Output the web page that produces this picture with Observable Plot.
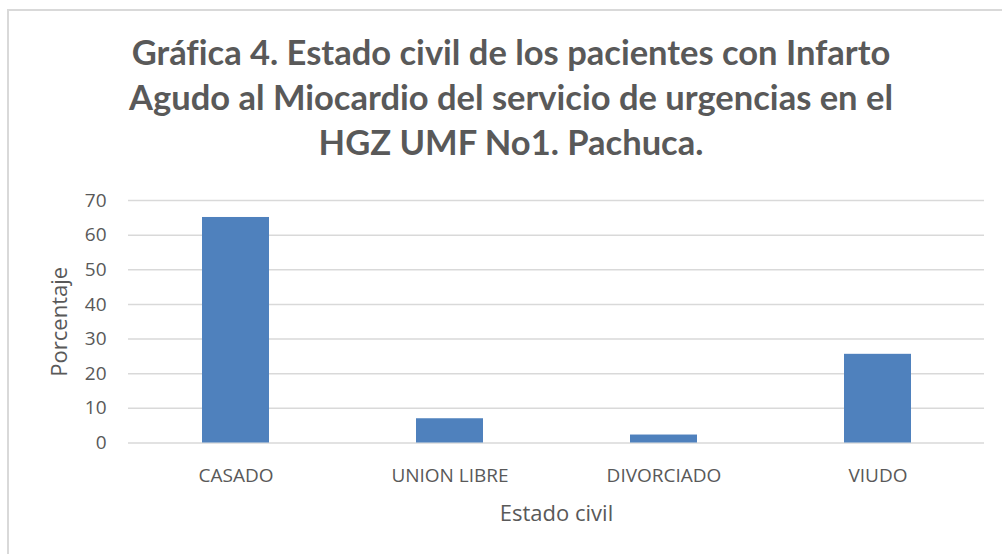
<!DOCTYPE html>
<html>
<head>
<meta charset="utf-8">
<script src="https://cdn.jsdelivr.net/npm/d3@7"></script>
<script src="https://cdn.jsdelivr.net/npm/@observablehq/plot@0.6"></script>
<style>
  html, body { margin: 0; padding: 0; background: #fff; }
  #wrap { position: relative; width: 1002px; height: 554px; overflow: hidden; background: #fff; }
  #frame { position: absolute; left: 7px; top: 9px; width: 1010px; height: 570px; border: 2px solid #d9d9d9; box-sizing: border-box; }
  #title { position: absolute; left: 10px; width: 1002px; top: 29px; text-align: center; font-family: Lato, sans-serif; font-weight: bold; font-size: 34.5px; line-height: 45px; color: #595959; font-variant-ligatures: none; font-feature-settings: "liga" 0; white-space: nowrap; }
  #chart { position: absolute; left: 0; top: 180px; }
</style>
</head>
<body>
<div id="wrap">
  <div id="frame"></div>
  <div id="title">Gráfica 4. Estado civil de los pacientes con Infarto<br>Agudo al Miocardio del servicio de urgencias en el<br>HGZ UMF No1. Pachuca.</div>
  <div id="chart"></div>
</div>
<script>
const categories = ["CASADO", "UNION LIBRE", "DIVORCIADO", "VIUDO"];
const values = [65.1, 7.0, 2.3, 25.6];
const yTicks = [0, 10, 20, 30, 40, 50, 60, 70];

const data = categories.map((c, i) => ({estado: c, pct: values[i]}));

const chart = Plot.plot({
  width: 1002,
  height: 374,
  marginTop: 20,
  marginBottom: 111.5,
  marginLeft: 128,
  marginRight: 18,
  style: {fontFamily: "'Open Sans', sans-serif", fontSize: "19px", color: "#595959", background: "transparent"},
  x: {domain: categories, paddingInner: 0.687, paddingOuter: 0.3435, label: null},
  y: {domain: [0, 70], ticks: yTicks, label: null},
  marks: [
    Plot.gridY(yTicks, {stroke: "#d9d9d9", strokeOpacity: 1, strokeWidth: 1.5}),
    Plot.barY(data, {x: "estado", y: "pct", fill: "#4f81bd"}),
    Plot.axisY(yTicks, {tickSize: 0, tickPadding: 22, fontSize: 19, fill: "#595959",
      label: "Porcentaje", labelAnchor: "center", labelArrow: "none", labelOffset: 77}),
    Plot.axisX({tickSize: 0, tickPadding: 25, fontSize: 19, fill: "#595959",
      label: "Estado civil", labelAnchor: "center", labelArrow: "none", labelOffset: 78})
  ]
});
chart.querySelectorAll("g[aria-label='y-axis label'] text, g[aria-label='x-axis label'] text").forEach(t => t.setAttribute("font-size", "22"));
document.getElementById("chart").appendChild(chart);
</script>
</body>
</html>
